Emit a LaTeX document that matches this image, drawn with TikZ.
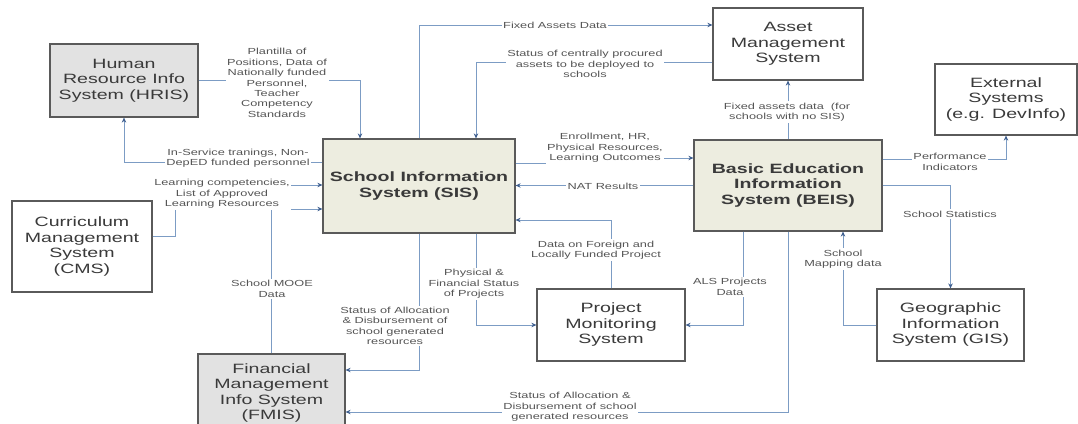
\documentclass[tikz,border=0pt]{standalone}
\usepackage{fontspec}
\setmainfont{Liberation Sans}[FakeStretch=1.45]
\usetikzlibrary{arrows.meta,calc}
\definecolor{wire}{HTML}{7C9CC4}
\definecolor{tipblue}{HTML}{3F5F8F}
\definecolor{edgegray}{HTML}{5A5A5A}
\definecolor{graybox}{HTML}{E2E2E2}
\definecolor{beige}{HTML}{EDEDE0}
\definecolor{labeltext}{HTML}{555555}
\definecolor{boxtext}{HTML}{3A3A3A}
\begin{document}
\begin{tikzpicture}[x=1pt,y=-1pt,
  sys/.style={draw=edgegray, line width=1.2pt, fill=white, align=center,
    text=boxtext, font=\fontsize{13.5}{15.5}\selectfont, inner sep=0pt},
  core/.style={sys, fill=beige, font=\bfseries\fontsize{13.5}{15.5}\selectfont},
  shaded/.style={sys, fill=graybox},
  tag/.style={fill=white, align=center, text=labeltext,
    font=\fontsize{8.8}{10.4}\selectfont, inner sep=1.5pt},
  link/.style={draw=wire, line width=0.9pt,
    -{Stealth[length=5pt,width=4.5pt,color=tipblue]}}]
\useasboundingbox (0,0) rectangle (1078,423);
\clip (0,0) rectangle (1078,423);

% systems
\node[shaded, minimum width=148pt, minimum height=73pt] (hris) at (124,80.5)
  {Human\\Resource Info\\System (HRIS)};
\node[core, minimum width=192pt, minimum height=94pt] (sis) at (419,186)
  {School Information\\System (SIS)};
\node[sys, minimum width=150pt, minimum height=72pt] (asset) at (788,44)
  {Asset\\Management\\System};
\node[sys, minimum width=142pt, minimum height=71pt] (ext) at (1006,99.5)
  {External\\Systems\\(e.g. DevInfo)};
\node[core, minimum width=188pt, minimum height=91pt] (beis) at (788,185.5)
  {Basic Education\\Information\\System (BEIS)};
\node[sys, minimum width=140pt, minimum height=91pt] (cms) at (82,246.5)
  {Curriculum\\Management\\System\\(CMS)};
\node[shaded, minimum width=147pt, minimum height=78pt] (fmis) at (271.5,393)
  {Financial\\Management\\Info System\\(FMIS)};
\node[sys, minimum width=148pt, minimum height=72pt] (pms) at (611,325)
  {Project\\Monitoring\\System};
\node[sys, minimum width=147pt, minimum height=72pt] (gis) at (950.5,325)
  {Geographic\\Information\\System (GIS)};

% bend points
\coordinate (jog) at (548,163);
\coordinate (cmsbend) at (175,185);

% data flows
\draw[link] (hris.east) -| ([xshift=-59pt]sis.north);
\draw[link] ([yshift=24pt]sis.west) -| (hris.south);
\draw[link] (sis.north) |- ([yshift=19pt]asset.west);
\draw[link] ([yshift=-18pt]asset.west) -| ([xshift=57pt]sis.north);
\draw[link] ([yshift=23pt]sis.east) -- (jog) |- ([yshift=27.5pt]beis.west);
\draw[link] (beis.west) -- (beis.west -| sis.east);
\draw[link] ([yshift=10.5pt]cms.east) -| (cmsbend) -- (cmsbend -| sis.west);
\draw[link] (fmis.north) |- ([yshift=-23pt]sis.west);
\draw[link] (sis.south) |- ([yshift=23pt]fmis.east);
\draw[link] ([xshift=57pt]sis.south) |- (pms.west);
\draw[link] (pms.north) |- ([yshift=-34pt]sis.east);
\draw[link] ([xshift=-45pt]beis.south) |- (pms.east);
\draw[link] (beis.south) |- ([yshift=-19pt]fmis.east);
\draw[link] (beis.north) -- (asset.south);
\draw[link] ([yshift=26.5pt]beis.east) -| (ext.south);
\draw[link] (beis.east) -| (gis.north);
\draw[link] (gis.west) -| ([xshift=55pt]beis.south);

% flow labels
\node[tag] (t1) at (277,83) {Plantilla of\\Positions, Data of\\Nationally funded\\Personnel,\\Teacher\\Competency\\Standards};
\node[tag] (t2) at (238,158) {In-Service tranings, Non-\\DepED funded personnel};
\node[tag] (t3) at (555,25) {Fixed Assets Data};
\node[tag] (t4) at (585,64) {Status of centrally procured\\assets to be deployed to\\schools};
\node[tag] (t5) at (605,148) {Enrollment, HR,\\Physical Resources,\\Learning Outcomes};
\node[tag] (t6) at (603,186) {NAT Results};
\node[tag] (t7) at (222,194) {Learning competencies,\\List of Approved\\Learning Resources};
\node[tag] (t8) at (272,289) {School MOOE\\Data};
\node[tag] (t9) at (395,326) {Status of Allocation\\\& Disbursement of\\school generated\\resources};
\node[tag] (t10) at (474,284) {Physical \&\\Financial Status\\of Projects};
\node[tag] (t11) at (596,250) {Data on Foreign and\\Locally Funded Project};
\node[tag] (t12) at (730,287) {ALS Projects\\Data};
\node[tag] (t13) at (570,407) {Status of Allocation \&\\Disbursement of school\\generated resources};
\node[tag] (t14) at (787,112) {Fixed assets data\ \ (for\\schools with no SIS)};
\node[tag] (t15) at (950,162) {Performance\\Indicators};
\node[tag] (t16) at (950,214) {School Statistics};
\node[tag] (t17) at (843,259) {School\\Mapping data};
\end{tikzpicture}
\end{document}
